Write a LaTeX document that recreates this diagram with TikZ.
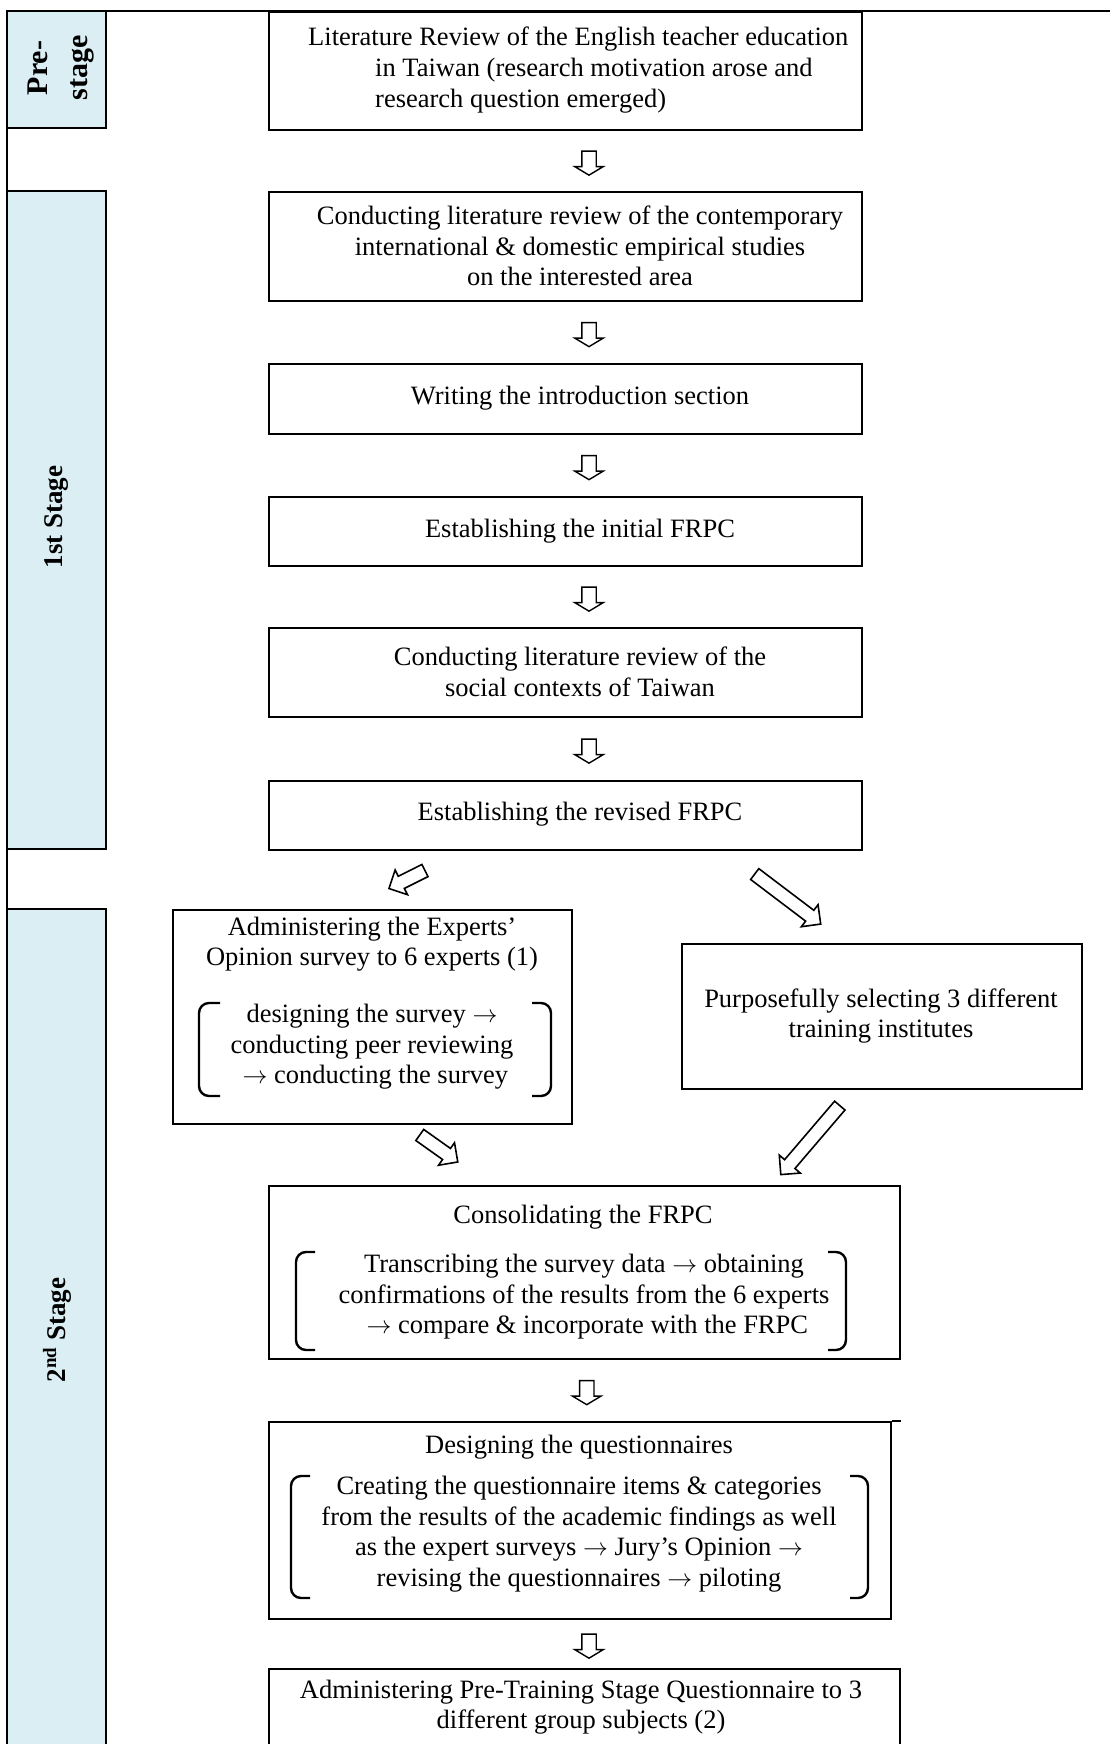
\documentclass[tikz,border=0pt]{standalone}
\usepackage{fontspec}
\setmainfont{Liberation Serif}
\usetikzlibrary{calc,shapes.arrows}

\definecolor{stagefill}{HTML}{DAEEF3}
\newcommand{\nextstep}{\ $\rightarrow$\ }
\newcommand{\slantarrow}[3]{%
    \path let \p1=($(#3)-(#2)$) in
        node[tiltarrow, rotate={atan2(\y1,\x1)}, minimum height={veclen(\x1,\y1)}] (#1)
        at ($(#2)!0.5!(#3)$) {};}

\begin{document}
\begin{tikzpicture}[
    x=1pt, y=-1pt,
    font=\fontsize{26.5}{30.6}\selectfont,
    box/.style={draw, line width=2pt, anchor=north west, inner sep=0pt},
    txt/.style={align=center, inner sep=0pt},
    stagebox/.style={draw, line width=2pt, fill=stagefill},
    stagename/.style={rotate=90, align=center, inner sep=0pt, font=\fontsize{27}{34}\selectfont\bfseries},
    downarrow/.style={single arrow, draw, line width=1.4pt, rotate=-90, minimum height=24pt,
        inner xsep=0pt, inner ysep=6.5pt, single arrow head extend=7pt, single arrow tip angle=118},
    tiltarrow/.style={single arrow, draw, line width=1.6pt, inner xsep=0pt, inner ysep=6pt,
        single arrow head extend=7pt, single arrow tip angle=90},
    bracket/.style={line width=2.4pt, rounded corners=10pt}
]
    \useasboundingbox (0,0) rectangle (1110,1744);

    % --- Stage column ---
    \draw[stagebox] (7,11) rectangle (106,128);
    \draw[stagebox] (7,191) rectangle (106,849);
    \draw[stagebox] (7,909) rectangle (106,1770);
    \draw[line width=2pt] (1110,11) -- (7,11) -- (7,1770);

    \node[stagename, font=\fontsize{30}{40}\selectfont\bfseries] (pre) at (61,68) {Pre-\\stage};
    \node[stagename] (first) at (57,517) {1st Stage};
    \node[stagename] (second) at (57,1330) {2\textsuperscript{nd} Stage};

    % --- Boxes ---
    \node[box, minimum width=593pt, minimum height=118pt] (b1) at (268,11) {};
    \node[box, minimum width=593pt, minimum height=109pt] (b2) at (268,191) {};
    \node[box, minimum width=593pt, minimum height=70pt] (b3) at (268,363) {};
    \node[box, minimum width=593pt, minimum height=69pt] (b4) at (268,496) {};
    \node[box, minimum width=593pt, minimum height=89pt] (b5) at (268,627) {};
    \node[box, minimum width=593pt, minimum height=69pt] (b6) at (268,780) {};
    \node[box, minimum width=399pt, minimum height=214pt] (b7) at (172,909) {};
    \node[box, minimum width=400pt, minimum height=145pt] (b8) at (681,943) {};
    \node[box, minimum width=631pt, minimum height=173pt] (b9) at (268,1185) {};
    \node[box, minimum width=622pt, minimum height=197pt] (b10) at (268,1421) {};
    \node[box, minimum width=631pt, minimum height=110pt] (b11) at (268,1668) {};
    \draw[line width=2pt] (b10.north east) -- ++(9,0);

    % --- Box texts ---
    \node[txt, anchor=west, align=left] (t1) at (308,70) {Literature Review of the English teacher education\\\hspace*{67pt}in Taiwan (research motivation arose and\\\hspace*{67pt}research question emerged)};
    \node[txt] (t2) at (580,246) {Conducting literature review of the contemporary\\international \& domestic empirical studies\\on the interested area};
    \node[txt] (t3) at (580,398) {Writing the introduction section};
    \node[txt] (t4) at (580,531) {Establishing the initial FRPC};
    \node[txt] (t5) at (580,672) {Conducting literature review of the\\social contexts of Taiwan};
    \node[txt] (t6) at (580,814) {Establishing the revised FRPC};
    \node[txt] (t7) at (372,944) {Administering the Experts’\\Opinion survey to 6 experts (1)};
    \node[txt] (t7b) at (372,1047) {designing the survey\nextstep\\conducting peer reviewing\\\nextstep conducting the survey};
    \node[txt] (t8) at (881,1016) {Purposefully selecting 3 different\\training institutes};
    \node[txt] (t9) at (583,1217) {Consolidating the FRPC};
    \node[txt] (t9b) at (584,1297) {Transcribing the survey data\nextstep obtaining\\confirmations of the results from the 6 experts\\\nextstep compare \& incorporate with the FRPC};
    \node[txt] (t10) at (579,1447) {Designing the questionnaires};
    \node[txt] (t10b) at (579,1534) {Creating the questionnaire items \& categories\\from the results of the academic findings as well\\as the expert surveys\nextstep Jury’s Opinion\nextstep\\revising the questionnaires\nextstep piloting};
    \node[txt] (t11) at (581,1707) {Administering Pre-Training Stage Questionnaire to 3\\different group subjects (2)};

    % --- Brackets ---
    \draw[bracket] (220,1003) -- (199,1003) -- (199,1096) -- (220,1096);
    \draw[bracket] (532,1003) -- (551,1003) -- (551,1096) -- (532,1096);
    \draw[bracket] (315,1252) -- (296,1252) -- (296,1350) -- (315,1350);
    \draw[bracket] (828,1252) -- (846,1252) -- (846,1350) -- (828,1350);
    \draw[bracket] (310,1476) -- (291,1476) -- (291,1598) -- (310,1598);
    \draw[bracket] (850,1476) -- (868,1476) -- (868,1598) -- (850,1598);

    % --- Down arrows ---
    \node[downarrow] (d1) at ($(b1.south)!0.5!(b2.north)+(23.5,0)$) {};
    \node[downarrow] (d2) at ($(b2.south)!0.5!(b3.north)+(23.5,0)$) {};
    \node[downarrow] (d3) at ($(b3.south)!0.5!(b4.north)+(23.5,0)$) {};
    \node[downarrow] (d4) at ($(b4.south)!0.5!(b5.north)+(23.5,0)$) {};
    \node[downarrow] (d5) at ($(b5.south)!0.5!(b6.north)+(23.5,0)$) {};
    \node[downarrow] (d6) at ($(b9.south)!0.5!(b10.north)+(4.5,0)$) {};
    \node[downarrow] (d7) at ($(b10.south)!0.5!(b11.north)+(6.75,0)$) {};

    % --- Slanted arrows ---
    \coordinate (a1s) at (428,869); \coordinate (a1e) at (392,887);
    \coordinate (a2s) at (752,872); \coordinate (a2e) at (818,922);
    \coordinate (a3s) at (417,1133); \coordinate (a3e) at (455,1160);
    \coordinate (a4s) at (842,1103); \coordinate (a4e) at (783,1172);
    \slantarrow{s1}{a1s}{a1e}
    \slantarrow{s2}{a2s}{a2e}
    \slantarrow{s3}{a3s}{a3e}
    \slantarrow{s4}{a4s}{a4e}

\end{tikzpicture}
\end{document}
